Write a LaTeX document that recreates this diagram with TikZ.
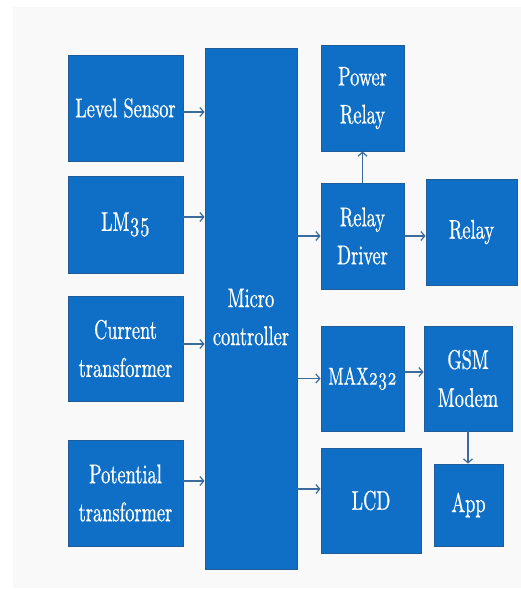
\documentclass[tikz,border=0pt]{standalone}
\usepackage{fontspec}
\setmainfont{lmroman10-regular.otf}[Numbers=OldStyle,FakeStretch=0.68,FakeBold=0.6]
\usetikzlibrary{arrows.meta}
\definecolor{boxblue}{HTML}{0F6FC6}
\definecolor{boxedge}{HTML}{1F5C99}
\definecolor{arrowcol}{HTML}{3A6B9C}
\definecolor{bg}{HTML}{F9F9F9}
\begin{document}
\begin{tikzpicture}[x=1pt,y=-1pt,
  blk/.style={draw=boxedge,line width=0.8pt,fill=boxblue,text=white,align=center,
    inner sep=0pt,font=\fontsize{27}{38}\selectfont},
  arr/.style={draw=arrowcol,line width=1.3pt,-{Straight Barb[length=4pt,width=9pt,line width=1.2pt]}}]
\useasboundingbox[fill=white] (0,0) rectangle (521,590);
\fill[bg] (13,7) rectangle (521,588);
% left column
\node[blk,minimum width=115pt,minimum height=106pt] (ls) at (125.5,108) {Level Sensor};
\node[blk,minimum width=115pt,minimum height=97pt] (lm) at (125.5,224.5) {LM35};
\node[blk,minimum width=115pt,minimum height=105pt] (ct) at (125.5,348.5) {Current\\transformer};
\node[blk,minimum width=115pt,minimum height=106pt] (pt) at (125.5,493) {Potential\\transformer};
% micro controller
\node[blk,minimum width=92pt,minimum height=521pt] (mc) at (251,308.5) {};
\node[text=white,align=center,inner sep=0pt,font=\fontsize{27}{38}\selectfont] (mct) at (251,317) {Micro\\controller};
% right side
\node[blk,minimum width=83pt,minimum height=106pt] (pr) at (362.5,98) {Power\\Relay};
\node[blk,minimum width=83pt,minimum height=106pt] (rd) at (362.5,236) {Relay\\Driver};
\node[blk,minimum width=91pt,minimum height=106pt] (rl) at (471.5,232) {Relay};
\node[blk,minimum width=83pt,minimum height=105pt,font=\fontsize{24.5}{38}\selectfont] (mx) at (362.5,378.5) {MAX232};
\node[blk,minimum width=88pt,minimum height=105pt] (gsm) at (468,378.5) {GSM\\Modem};
\node[blk,minimum width=100pt,minimum height=105pt] (lcd) at (371,500.5) {LCD};
\node[blk,minimum width=69pt,minimum height=82pt] (app) at (468.5,505) {App};
% arrows into MC
\draw[arr] ([yshift=-4pt]ls.east) -- ([yshift=-4pt]ls.east -| mc.west);
\draw[arr] ([yshift=7.5pt]lm.east) -- ([yshift=7.5pt]lm.east -| mc.west);
\draw[arr] ([yshift=4.5pt]ct.east) -- ([yshift=4.5pt]ct.east -| mc.west);
\draw[arr] ([yshift=12pt]pt.east) -- ([yshift=12pt]pt.east -| mc.west);
% arrows out of MC
\draw[arr] (rd.west -| mc.east) -- (rd.west);
\draw[arr] (mx.west -| mc.east) -- (mx.west);
\draw[arr] ([yshift=11.5pt]lcd.west -| mc.east) -- ([yshift=11.5pt]lcd.west);
% others
\draw[arr] (rd.north) -- (pr.south);
\draw[arr] (rd.east) -- (rd.east -| rl.west);
\draw[arr] ([yshift=6.5pt]mx.east) -- ([yshift=6.5pt]mx.east -| gsm.west);
\draw[arr] (gsm.south) -- (gsm.south |- app.north);
\end{tikzpicture}
\end{document}
